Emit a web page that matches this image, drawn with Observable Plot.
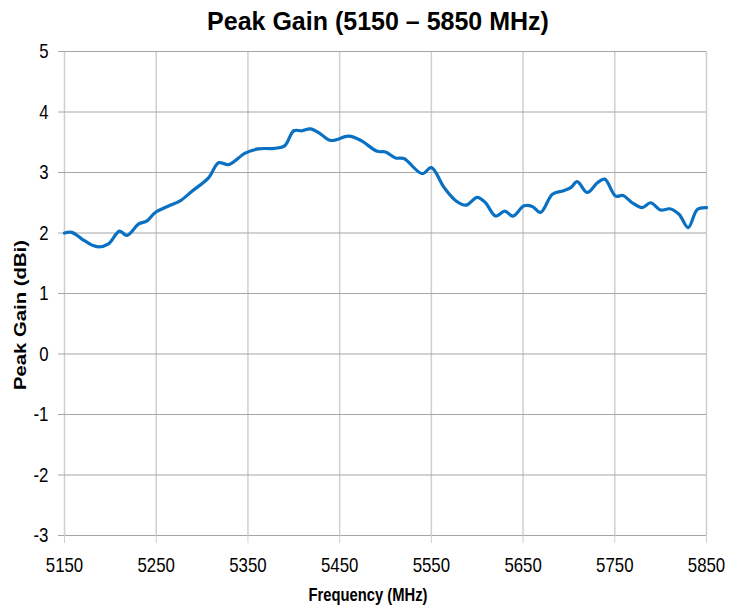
<!DOCTYPE html>
<html>
<head>
<meta charset="utf-8">
<script src="https://cdn.jsdelivr.net/npm/d3@7"></script>
<script src="https://cdn.jsdelivr.net/npm/@observablehq/plot@0.6"></script>
<style>
  body { margin: 0; background: #fff; }
  #title {
    box-sizing: border-box; width: 743px; height: 38px; padding: 9px 0 0 13px;
    text-align: center; font: bold 25px/25px "Liberation Sans", Arial, sans-serif; color: #000;
  }
</style>
</head>
<body>
<div id="title">Peak Gain (5150 – 5850 MHz)</div>
<div id="chart"></div>
<script>
// Frequency (MHz) and peak gain (dBi)
const freq = [5150, 5158, 5169, 5180, 5187, 5198, 5210, 5218, 5231, 5240, 5249, 5264, 5276, 5289,
  5307, 5318, 5329, 5347, 5361, 5379, 5390, 5400, 5409, 5418, 5429, 5440, 5460, 5473, 5491, 5500,
  5511, 5520, 5540, 5550, 5564, 5577, 5588, 5600, 5609, 5620, 5630, 5639, 5651, 5660, 5669, 5682,
  5694, 5702, 5709, 5720, 5731, 5739, 5751, 5759, 5769, 5780, 5789, 5800, 5810, 5820, 5830, 5840, 5850];
const gain = [2.00, 2.01, 1.90, 1.80, 1.77, 1.82, 2.03, 1.96, 2.15, 2.20, 2.34, 2.45, 2.53, 2.69,
  2.91, 3.16, 3.13, 3.32, 3.39, 3.40, 3.44, 3.69, 3.69, 3.72, 3.64, 3.53, 3.60, 3.53, 3.35, 3.34,
  3.24, 3.23, 2.98, 3.08, 2.75, 2.53, 2.46, 2.59, 2.50, 2.28, 2.36, 2.28, 2.45, 2.44, 2.34, 2.64,
  2.70, 2.75, 2.85, 2.67, 2.83, 2.89, 2.61, 2.62, 2.50, 2.42, 2.50, 2.38, 2.40, 2.31, 2.09, 2.39, 2.42];
const xTicks = [5150, 5250, 5350, 5450, 5550, 5650, 5750, 5850];
const yTicks = [-3, -2, -1, 0, 1, 2, 3, 4, 5];
const xTitle = "Frequency (MHz)";
const yTitle = "Peak Gain (dBi)";

const data = freq.map((f, i) => ({f, g: gain[i]}));

const W = 743, H = 572, mT = 13, mL = 64, mR = 37, mB = 75;

const svg = Plot.plot({
  width: W, height: H,
  marginTop: mT, marginLeft: mL, marginRight: mR, marginBottom: mB,
  style: {fontFamily: '"Liberation Sans", Arial, sans-serif', fontSize: "21px", color: "#000", background: "#fff", overflow: "visible"},
  x: {domain: [5150, 5850]},
  y: {domain: [-3, 5]},
  marks: [
    Plot.gridX(xTicks, {stroke: "#d0d0d0", strokeOpacity: 1, strokeWidth: 1.5}),
    Plot.gridY(yTicks, {stroke: "#a6a6a6", strokeOpacity: 1, strokeWidth: 1.2}),
    Plot.axisX(xTicks, {tickSize: 8, tickPadding: 14, stroke: "#d0d0d0", fill: "#000", label: null, tickFormat: d => String(d)}),
    Plot.axisY(yTicks, {tickSize: 6, tickPadding: 10, stroke: "#a6a6a6", fill: "#000", label: null, tickFormat: d => String(d)}),
    Plot.line(data, {x: "f", y: "g", stroke: "#0A70C2", strokeWidth: 3.2, curve: "catmull-rom"})
  ]
});

document.getElementById("chart").append(svg);

// condense tick labels (narrow face in the reference)
d3.select(svg).selectAll('g[aria-label="x-axis tick label"] text, g[aria-label="y-axis tick label"] text')
  .each(function () {
    const w = this.getComputedTextLength();
    this.setAttribute("textLength", (w * 0.8).toFixed(1));
    this.setAttribute("lengthAdjust", "spacingAndGlyphs");
  });

const s = d3.select(svg);
s.append("text")
  .attr("x", 368).attr("y", 563)
  .attr("text-anchor", "middle")
  .attr("font-family", '"Liberation Sans", Arial, sans-serif')
  .attr("font-weight", "bold").attr("font-size", 19)
  .attr("textLength", 119).attr("lengthAdjust", "spacingAndGlyphs")
  .text(xTitle);
s.append("text")
  .attr("transform", "translate(26,277) rotate(-90)")
  .attr("text-anchor", "middle")
  .attr("font-family", '"Liberation Sans", Arial, sans-serif')
  .attr("font-weight", "bold").attr("font-size", 17)
  .attr("textLength", 150).attr("lengthAdjust", "spacingAndGlyphs")
  .text(yTitle);
</script>
</body>
</html>
